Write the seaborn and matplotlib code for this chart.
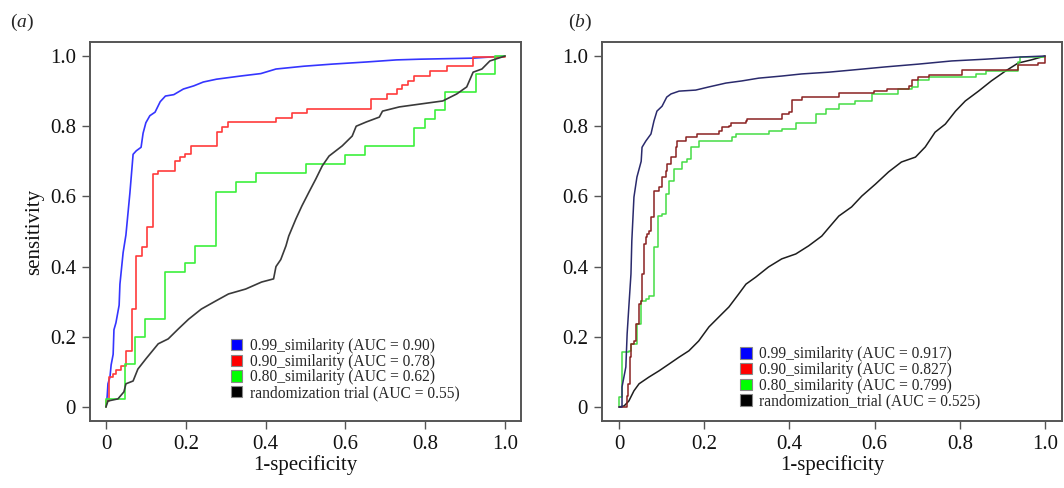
import numpy as np
import pandas as pd
import matplotlib
matplotlib.use("Agg")
import matplotlib.pyplot as plt
from matplotlib.patches import Patch
import seaborn as sns

sns.set_style("white")
plt.rcParams['font.family'] = ['Liberation Serif', 'DejaVu Serif']
plt.rcParams['mathtext.fontset'] = 'custom'
plt.rcParams['mathtext.it'] = 'Liberation Serif:italic'
plt.rcParams['mathtext.rm'] = 'Liberation Serif'

# ---------------- data: panel (a) ----------------
a_labels = ["0.99_similarity (AUC = 0.90)", "0.90_similarity (AUC = 0.78)",
            "0.80_similarity (AUC = 0.62)", "randomization trial (AUC = 0.55)"]

a99_x = [0, 0.003, 0.005, 0.01, 0.013, 0.018, 0.02, 0.025, 0.033, 0.035, 0.043, 0.05, 0.06,
         0.068, 0.076, 0.088, 0.093, 0.10, 0.11, 0.123, 0.136, 0.149, 0.17, 0.194, 0.22, 0.244,
         0.277, 0.337, 0.388, 0.426, 0.496, 0.567, 0.652, 0.728, 0.786, 0.92, 1.0]
a99_y = [0, 0.03, 0.066, 0.085, 0.12, 0.15, 0.22, 0.24, 0.29, 0.35, 0.44, 0.49, 0.61,
         0.72, 0.73, 0.74, 0.78, 0.81, 0.83, 0.84, 0.87, 0.886, 0.89, 0.906, 0.915, 0.926,
         0.934, 0.943, 0.95, 0.963, 0.971, 0.977, 0.983, 0.989, 0.991, 0.994, 1.0]

a90_x = [0, 0, 0.007, 0.018, 0.025, 0.038, 0.05, 0.066, 0.076, 0.09, 0.103, 0.118, 0.131,
         0.174, 0.186, 0.199, 0.212, 0.277, 0.29, 0.307, 0.426, 0.466, 0.504, 0.665, 0.705,
         0.73, 0.743, 0.756, 0.773, 0.811, 0.854, 0.92, 1.0]
a90_y = [0, 0.017, 0.085, 0.095, 0.105, 0.117, 0.16, 0.28, 0.43, 0.456, 0.513, 0.664, 0.672,
         0.70, 0.712, 0.72, 0.744, 0.783, 0.797, 0.812, 0.823, 0.838, 0.849, 0.877, 0.892,
         0.906, 0.917, 0.929, 0.943, 0.957, 0.971, 0.997, 1.0]

a80_x = [0, 0, 0.048, 0.073, 0.098, 0.149, 0.199, 0.224, 0.275, 0.325, 0.375, 0.50, 0.60,
         0.65, 0.773, 0.80, 0.824, 0.85, 0.927, 0.975, 1.0]
a80_y = [0, 0.023, 0.122, 0.20, 0.25, 0.385, 0.41, 0.459, 0.613, 0.641, 0.667, 0.692, 0.718,
         0.744, 0.795, 0.82, 0.846, 0.897, 0.949, 1.0, 1.0]

arand_x = [0, 0.005, 0.03, 0.045, 0.05, 0.068, 0.08, 0.1, 0.131, 0.156, 0.181, 0.207, 0.239,
           0.275, 0.307, 0.35, 0.39, 0.42, 0.426, 0.438, 0.451, 0.458, 0.476, 0.491, 0.509,
           0.526, 0.542, 0.559, 0.592, 0.617, 0.627, 0.652, 0.685, 0.693, 0.735, 0.786, 0.844,
           0.879, 0.904, 0.92, 0.942, 0.962, 1.0]
arand_y = [0, 0.017, 0.023, 0.043, 0.066, 0.074, 0.108, 0.137, 0.18, 0.194, 0.222, 0.25, 0.279,
           0.302, 0.322, 0.336, 0.356, 0.365, 0.40, 0.42, 0.459, 0.487, 0.536, 0.573, 0.613,
           0.65, 0.687, 0.715, 0.744, 0.772, 0.80, 0.812, 0.826, 0.843, 0.855, 0.863, 0.872,
           0.892, 0.912, 0.954, 0.963, 0.986, 1.0]

# ---------------- data: panel (b) ----------------
b_labels = ["0.99_similarity (AUC = 0.917)", "0.90_similarity (AUC = 0.827)",
            "0.80_similarity (AUC = 0.799)", "randomization_trial (AUC = 0.525)"]

b99_x = [0, 0.007, 0.007, 0.016, 0.019, 0.023, 0.028, 0.03, 0.035, 0.042, 0.052, 0.054, 0.063,
         0.075, 0.082, 0.089, 0.101, 0.112, 0.122, 0.141, 0.18, 0.211, 0.251, 0.288, 0.328,
         0.382, 0.429, 0.492, 0.546, 0.625, 0.703, 0.781, 0.86, 0.937, 1.0]
b99_y = [0, 0, 0.057, 0.114, 0.208, 0.285, 0.379, 0.473, 0.598, 0.655, 0.70, 0.74, 0.758,
         0.778, 0.815, 0.843, 0.857, 0.883, 0.892, 0.90, 0.903, 0.912, 0.923, 0.929, 0.937,
         0.943, 0.949, 0.954, 0.96, 0.969, 0.977, 0.986, 0.991, 0.997, 1.0]

b90_x = [0, 0.018, 0.021, 0.025, 0.028, 0.035, 0.04, 0.047, 0.051, 0.054, 0.059, 0.063, 0.066,
         0.07, 0.075, 0.082, 0.094, 0.101, 0.11, 0.112, 0.122, 0.134, 0.136, 0.157, 0.183,
         0.234, 0.241, 0.258, 0.262, 0.298, 0.30, 0.382, 0.398, 0.405, 0.406, 0.429, 0.516,
         0.598, 0.628, 0.68, 0.687, 0.703, 0.727, 0.806, 0.937, 0.984, 1.0]
b90_y = [0, 0.03, 0.066, 0.142, 0.18, 0.188, 0.236, 0.293, 0.302, 0.379, 0.464, 0.484, 0.493,
         0.501, 0.541, 0.615, 0.627, 0.655, 0.672, 0.692, 0.712, 0.741, 0.758, 0.769, 0.778,
         0.786, 0.797, 0.80, 0.809, 0.815, 0.82, 0.835, 0.84, 0.857, 0.875, 0.883, 0.894,
         0.90, 0.906, 0.914, 0.932, 0.94, 0.946, 0.96, 0.974, 0.98, 1.0]

b80_x = [0, 0, 0.007, 0.023, 0.028, 0.042, 0.051, 0.063, 0.07, 0.082, 0.091, 0.101, 0.11,
         0.117, 0.129, 0.148, 0.159, 0.169, 0.187, 0.265, 0.274, 0.351, 0.382, 0.415, 0.462,
         0.485, 0.516, 0.555, 0.593, 0.656, 0.687, 0.703, 0.727, 0.839, 0.862, 0.937, 0.942, 1.0]
b80_y = [0, 0.028, 0.157, 0.16, 0.18, 0.236, 0.302, 0.308, 0.316, 0.456, 0.544, 0.55, 0.607,
         0.644, 0.678, 0.698, 0.707, 0.741, 0.758, 0.769, 0.778, 0.786, 0.792, 0.809, 0.835,
         0.849, 0.863, 0.872, 0.892, 0.906, 0.912, 0.932, 0.94, 0.949, 0.957, 0.983, 0.997, 1.0]

brand_x = [0, 0.012, 0.023, 0.035, 0.047, 0.07, 0.094, 0.117, 0.141, 0.164, 0.187, 0.211, 0.234,
           0.258, 0.281, 0.298, 0.321, 0.351, 0.382, 0.415, 0.445, 0.476, 0.492, 0.516, 0.546,
           0.57, 0.602, 0.633, 0.663, 0.696, 0.719, 0.742, 0.766, 0.79, 0.813, 0.844, 0.874,
           0.907, 0.937, 0.968, 1.0]
brand_y = [0, 0.003, 0.017, 0.046, 0.066, 0.085, 0.103, 0.122, 0.142, 0.16, 0.188, 0.228, 0.256,
           0.285, 0.322, 0.35, 0.37, 0.399, 0.422, 0.436, 0.459, 0.487, 0.51, 0.544, 0.57,
           0.601, 0.635, 0.67, 0.698, 0.712, 0.741, 0.783, 0.806, 0.843, 0.872, 0.90, 0.929,
           0.957, 0.98, 0.989, 1.0]

ticks = [0, 0.2, 0.4, 0.6, 0.8, 1.0]
tick_labels = ["0", "0.2", "0.4", "0.6", "0.8", "1.0"]

legend_colors = ["#0000ff", "#ff0000", "#00ff00", "#000000"]

# ---------------- figure ----------------
fig = plt.figure(figsize=(10.64, 4.88), dpi=100)
W, H = 1064, 488
axA = fig.add_axes([90 / W, (H - 421) / H, 431 / W, 379 / H])
axB = fig.add_axes([602 / W, (H - 421) / H, 460 / W, 379 / H])

panels = [
    (axA, [(a99_x, a99_y, "#3535ff", None, 1.2), (a90_x, a90_y, "#ff3b3b", "steps-post", 1.2),
           (a80_x, a80_y, "#3cf03c", "steps-post", 1.2), (arand_x, arand_y, "#3a3a3a", None, 1.2)],
     a_labels, (0.326, 0.219)),
    (axB, [(brand_x, brand_y, "#1e1e1e", None, 1.1), (b80_x, b80_y, "#45dc45", "steps-post", 1.1),
           (b90_x, b90_y, "#8a2222", "steps-post", 1.1), (b99_x, b99_y, "#2a2a6c", None, 1.1)],
     b_labels, (0.300, 0.197)),
]

for ax, series, labels, lpos in panels:
    for xs, ys, col, ds, lw in series:
        df = pd.DataFrame({"x": xs, "y": ys})
        kw = {}
        if ds:
            kw["drawstyle"] = ds
        sns.lineplot(data=df, x="x", y="y", ax=ax, color=col, lw=lw, sort=False,
                     estimator=None, legend=False, **kw)
    ax.set_xlim(-0.04, 1.04)
    ax.set_ylim(-0.04, 1.04)
    ax.set_xticks(ticks)
    ax.set_xticklabels(tick_labels)
    ax.set_yticks(ticks)
    ax.set_yticklabels(tick_labels)
    ax.tick_params(axis="both", direction="out", length=6, width=1, color="#555555",
                   labelsize=15, labelcolor="#111111", pad=4, left=True, bottom=True)
    for s in ax.spines.values():
        s.set_color("#555555")
        s.set_linewidth(1.4)
    ax.set_xlabel("1-specificity", fontsize=15, labelpad=1, color="#111111")
    ax.set_ylabel("")
    handles = [Patch(facecolor=c, edgecolor="#888888", linewidth=0.8) for c in legend_colors]
    ax.legend(handles, labels, loc="upper left", bbox_to_anchor=lpos, frameon=False,
              fontsize=11.2, handlelength=0.75, handleheight=0.75, handletextpad=0.5,
              labelspacing=-0.02, borderpad=0, borderaxespad=0)

axA.set_ylabel("sensitivity", fontsize=15, color="#111111", labelpad=4)

fig.text(10 / W, 1 - 22 / H, r"($\mathit{a}$)", fontsize=14, va="center", ha="left")
fig.text(568 / W, 1 - 22 / H, r"($\mathit{b}$)", fontsize=14, va="center", ha="left")

fig.savefig("out.png", dpi=100)
